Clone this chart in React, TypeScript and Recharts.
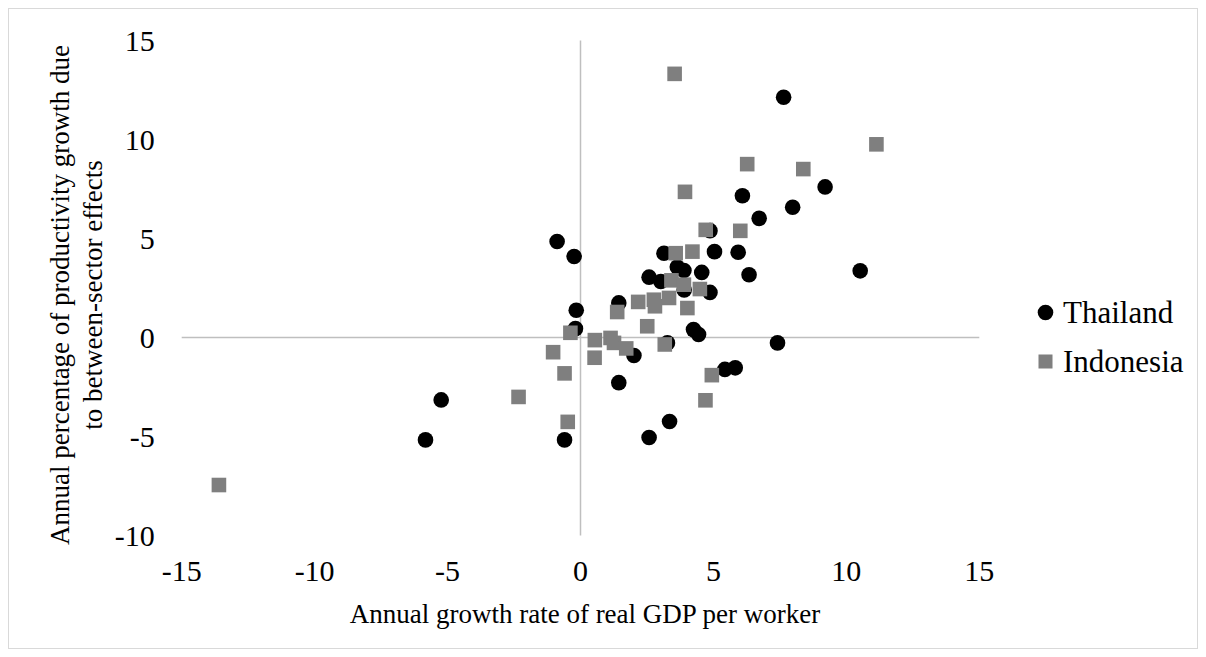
import React from "react";
import { ScatterChart, Scatter, XAxis, YAxis, ReferenceLine, Legend } from "recharts";

const thailandX = [7.64, 9.2, 7.98, 6.72, 10.52, 7.41, 6.09, 4.87, 5.04, 5.93, 6.34, -0.88, -0.24, 3.14, 3.64, 3.89, 4.56, 2.58, 3.02, 4.87, 1.44, -0.16, -0.19, 4.25, 4.44, 3.27, 2.01, 1.44, 5.43, 5.82, 3.35, 2.58, -0.6, -5.24, -5.83, 3.9];
const thailandY = [12.14, 7.61, 6.58, 6.02, 3.37, -0.27, 7.16, 5.4, 4.34, 4.31, 3.17, 4.85, 4.09, 4.26, 3.56, 3.39, 3.29, 3.05, 2.83, 2.28, 1.75, 1.38, 0.45, 0.4, 0.15, -0.27, -0.91, -2.28, -1.61, -1.53, -4.24, -5.05, -5.17, -3.15, -5.17, 2.4];

const indonesiaX = [3.54, 6.27, 8.38, 11.13, 3.93, 4.71, 6.01, 3.58, 4.21, 3.42, 3.89, 4.49, 2.76, 3.33, 2.17, 2.8, 4.02, 1.38, 2.51, -0.38, 0.54, 1.13, 1.26, 1.72, 3.17, -1.03, 0.53, -0.6, 4.94, -2.33, 4.7, -0.48, -13.6];
const indonesiaY = [13.32, 8.76, 8.51, 9.76, 7.36, 5.44, 5.39, 4.26, 4.34, 2.89, 2.67, 2.45, 1.91, 2.0, 1.8, 1.58, 1.49, 1.29, 0.57, 0.24, -0.13, -0.02, -0.27, -0.55, -0.35, -0.74, -1.02, -1.81, -1.9, -3.0, -3.17, -4.26, -7.45];

const xTicks = [-15, -10, -5, 0, 5, 10, 15];
const yTicks = [-10, -5, 0, 5, 10, 15];

const seriesNames = ["Thailand", "Indonesia"];
const xTitle = "Annual growth rate of real GDP per worker";
const yTitleLines = ["Annual percentage of productivity growth due", "to between-sector effects"];

const thailandData = thailandX.map((x, i) => ({ x, y: thailandY[i] }));
const indonesiaData = indonesiaX.map((x, i) => ({ x, y: indonesiaY[i] }));

const FONT = '"Liberation Serif", "Times New Roman", serif';
const GRAY = "#7f7f7f";

const CircleShape = (props: any) => <circle cx={props.cx} cy={props.cy} r={7.8} fill="#000" />;
const SquareShape = (props: any) => (
  <rect x={props.cx - 7.3} y={props.cy - 7.3} width={14.6} height={14.6} fill={GRAY} />
);

const LegendContent = () => (
  <div style={{ fontFamily: FONT, fontSize: 31, color: "#000" }}>
    {seriesNames.map((name, i) => (
      <div key={name} style={{ height: 49, display: "flex", alignItems: "center" }}>
        <svg width={17} height={17} style={{ marginRight: 9 }}>
          {i === 0 ? (
            <circle cx={8.5} cy={8.5} r={7.8} fill="#000" />
          ) : (
            <rect x={1.5} y={1.5} width={14} height={14} fill={GRAY} />
          )}
        </svg>
        <span style={{ lineHeight: 1 }}>{name}</span>
      </div>
    ))}
  </div>
);

const YTitle = () => (
  <g>
    {yTitleLines.map((line, i) => {
      const x = 51 + i * 33;
      const y = 286;
      return (
        <text
          key={i}
          x={x}
          y={y}
          transform={`rotate(-90, ${x}, ${y})`}
          textAnchor="middle"
          dominantBaseline="central"
          fontFamily={FONT}
          fontSize={27}
          fill="#000"
        >
          {line}
        </text>
      );
    })}
  </g>
);

const XTitle = () => (
  <text x={576} y={605} textAnchor="middle" dominantBaseline="central" fontFamily={FONT} fontSize={27} fill="#000">
    {xTitle}
  </text>
);

export default function App() {
  return (
    <div style={{ width: 1190, height: 641, border: "1px solid #d9d9d9", boxSizing: "border-box", background: "#fff" }}>
      <ScatterChart
        width={1188}
        height={639}
        margin={{ top: 31.6, right: 217.7, bottom: 72.5, left: 112.7 }}
      >
        <XAxis
          type="number"
          dataKey="x"
          domain={[-15, 15]}
          ticks={xTicks}
          axisLine={false}
          tickLine={false}
          tickSize={0}
          tickMargin={24}
          height={40}
          interval={0}
          allowDataOverflow
          tick={{ fontFamily: FONT, fontSize: 30, fill: "#000" }}
          label={{ content: XTitle }}
        />
        <YAxis
          type="number"
          dataKey="y"
          domain={[-10, 15]}
          ticks={yTicks}
          axisLine={false}
          tickLine={false}
          tickSize={0}
          tickMargin={27}
          width={60}
          interval={0}
          allowDataOverflow
          tick={{ fontFamily: FONT, fontSize: 30, fill: "#000" }}
          label={{ content: YTitle }}
        />
        <ReferenceLine x={0} stroke="#bfbfbf" strokeWidth={1.5} />
        <ReferenceLine y={0} stroke="#bfbfbf" strokeWidth={1.5} />
        <Scatter name={seriesNames[0]} data={thailandData} shape={CircleShape} isAnimationActive={false} />
        <Scatter name={seriesNames[1]} data={indonesiaData} shape={SquareShape} isAnimationActive={false} />
        <Legend
          layout="horizontal"
          verticalAlign="middle"
          align="center"
          content={LegendContent}
          wrapperStyle={{ position: "absolute", left: 1028, top: 279, width: 170, bottom: "auto" }}
        />
      </ScatterChart>
    </div>
  );
}
